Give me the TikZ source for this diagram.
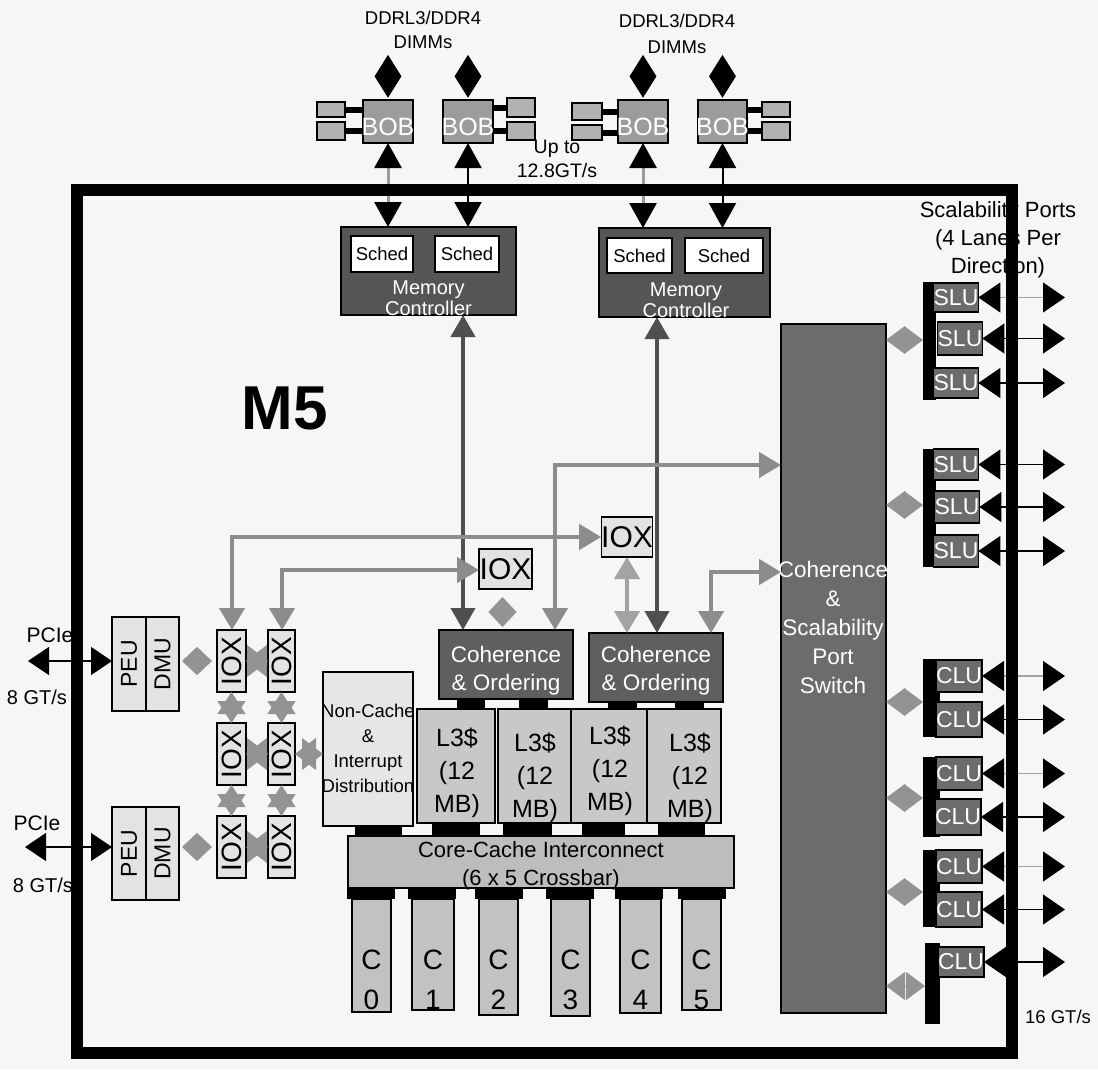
\documentclass[tikz,border=0pt]{standalone}
\usepackage{fontspec}
\usepackage{graphicx}
\setmainfont{Liberation Sans}
\usetikzlibrary{arrows.meta,shapes.geometric,calc}
\definecolor{bg}{HTML}{F6F6F6}
\definecolor{dimmc}{HTML}{B2B2B2}
\definecolor{bobc}{HTML}{9C9C9C}
\definecolor{mcc}{HTML}{555555}
\definecolor{cohc}{HTML}{5F5F5F}
\definecolor{boxl}{HTML}{E3E3E3}
\definecolor{l3c}{HTML}{C8C8C8}
\definecolor{ccic}{HTML}{BDBDBD}
\definecolor{corec}{HTML}{C2C2C2}
\definecolor{ncc}{HTML}{E6E6E6}
\definecolor{swc}{HTML}{6C6C6C}
\definecolor{routeg}{HTML}{8C8C8C}
\definecolor{routed}{HTML}{4F4F4F}
\definecolor{routel}{HTML}{A3A3A3}
\definecolor{starc}{HTML}{939393}
\definecolor{memline}{HTML}{9A9A9A}
\newcommand\fsz[2]{\fontsize{#1}{#2}\selectfont}
\newcommand\bx[7][]{\node[inner sep=0pt,outer sep=0pt,minimum width={#5-#3},minimum height={#6-#4},#1] (#2) at ({(#3+#5)/2},{(#4+#6)/2}) {#7};}
\tikzset{
 bk/.style={draw=black,line width=1.3pt},
 dimm/.style={bk,fill=dimmc},
 bobs/.style={bk,fill=bobc},
 bobt/.style={text=white,font=\fsz{25}{26}},
 dmd/.style={diamond,fill=black,inner sep=0pt,minimum width=27pt,minimum height=43pt},
 dbar/.style={line width=6pt,draw=black},
 mcbox/.style={bk,fill=mcc},
 schedbox/.style={bk,fill=white,font=\fsz{18.5}{20}},
 cohbox/.style={bk,fill=cohc},
 ioxh/.style={bk,fill=boxl,font=\fsz{30}{32}},
 ioxv/.style={bk,fill=boxl,font=\fsz{28}{30}},
 l3box/.style={bk,fill=l3c},
 padbk/.style={fill=black},
 ccibox/.style={bk,fill=ccic},
 corebox/.style={bk,fill=corec},
 ncbox/.style={bk,fill=ncc},
 pdbox/.style={bk,fill=boxl,font=\fsz{23}{24}},
 swbox/.style={bk,fill=swc},
 portbox/.style={bk,fill=swc,text=white,font=\fsz{23}{24}},
 barbk/.style={fill=black},
 wt/.style={text=white},
 memg/.style={draw=memline,line width=3pt,arrows={Triangle[width=27pt,length=25pt,color=black]-Triangle[width=27pt,length=25pt,color=black]}},
 memk/.style={memg,draw=black,line width=2pt},
 pciarr/.style={draw=black,line width=1.2pt,arrows={Triangle[width=28pt,length=21pt]-Triangle[width=28pt,length=21pt]}},
 portk/.style={draw=black,line width=1.2pt,arrows={Triangle[width=30pt,length=22pt,color=black]-Triangle[width=30pt,length=22pt,color=black]}},
 portg/.style={portk,draw=routel},
 droute/.style={draw=routed,line width=4pt,arrows={Triangle[width=24pt,length=22pt]-Triangle[width=24pt,length=22pt]}},
 groute/.style={draw=routeg,line width=4.5pt,arrows={Triangle[width=25pt,length=22pt]-Triangle[width=25pt,length=22pt]}},
 lroute/.style={groute,draw=routel},
 hxconn/.style={draw=starc,line width=1pt,arrows={Triangle[width=32pt,length=21pt]-Triangle[width=32pt,length=21pt]}},
 vstar/.style={draw=starc,line width=1pt,arrows={Triangle[width=28pt,length=22pt]-Triangle[width=28pt,length=22pt]}},
 diaconn/.style={draw=starc,line width=1pt,arrows={Triangle[width=28pt,length=15pt]-Triangle[width=28pt,length=15pt]}},
 swconn/.style={draw=starc,line width=1pt,arrows={Triangle[width=28pt,length=19pt]-Triangle[width=28pt,length=19pt]}},
}
\begin{document}
\begin{tikzpicture}[x=1pt,y=-1pt]
\useasboundingbox (0,0) rectangle (1098,1069);
\fill[bg] (0,0) rectangle (1098,1069);

% ---------- top labels
\node[font=\fsz{18.5}{24},align=center] (ddr1) at (423,30) {DDRL3/DDR4\\DIMMs};
\node[font=\fsz{18.5}{26},align=center] (ddr2) at (677,34) {DDRL3/DDR4\\DIMMs};
\node[font=\fsz{19.5}{24},align=center] (upto) at (557,159) {Up to\\12.8GT/s};

% ---------- BOBs and DIMMs
\bx[bobs]{bob1}{363}{100}{413}{143}{}
\bx[bobs]{bob2}{443}{100}{493}{143}{}
\bx[bobs]{bob3}{618}{100}{668}{143}{}
\bx[bobs]{bob4}{698}{100}{747}{143}{}
\bx[dimm]{d1a}{317}{102}{345}{117}{}
\bx[dimm]{d1b}{317}{122}{345}{140}{}
\bx[dimm]{d2a}{507}{98}{535}{117}{}
\bx[dimm]{d2b}{507}{122}{535}{140}{}
\bx[dimm]{d3a}{572}{103}{602}{120}{}
\bx[dimm]{d3b}{572}{125}{602}{140}{}
\bx[dimm]{d4a}{762}{102}{790}{117}{}
\bx[dimm]{d4b}{762}{122}{790}{140}{}
\draw[dbar] (d1a) -- (d1a -| bob1.west);
\draw[dbar] (d1b) -- (d1b -| bob1.west);
\draw[dbar] (d2a) -- (d2a -| bob2.east);
\draw[dbar] (d2b) -- (d2b -| bob2.east);
\draw[dbar] (d3a) -- (d3a -| bob3.west);
\draw[dbar] (d3b) -- (d3b -| bob3.west);
\draw[dbar] (d4a) -- (d4a -| bob4.east);
\draw[dbar] (d4b) -- (d4b -| bob4.east);
\foreach \b in {1,2,3,4}{
  \node[dmd,anchor=south] (dm\b) at ([yshift=2pt]bob\b.north) {};
  \node[bobt] (bob\b t) at ([yshift=-5pt]bob\b.center) {BOB};
}

% ---------- memory controllers
\bx[mcbox]{mc1}{341}{227}{516}{315}{}
\bx[mcbox]{mc2}{599}{228}{770}{317}{}
\bx[schedbox]{s1a}{351}{236}{413}{272}{Sched}
\bx[schedbox]{s1b}{435}{236}{499}{272}{Sched}
\bx[schedbox]{s2a}{607}{238}{672}{273}{Sched}
\bx[schedbox]{s2b}{685}{238}{763}{273}{Sched}
\node[wt,font=\fsz{20}{21},align=center] (mc1t) at (428.5,298) {Memory\\Controller};
\node[wt,font=\fsz{20}{21},align=center] (mc2t) at (686,300) {Memory\\Controller};
\draw[memg] (bob1.south) -- (bob1.south |- mc1.north);
\draw[memk] (bob2.south) -- (bob2.south |- mc1.north);
\draw[memg] (bob3.south) -- (bob3.south |- mc2.north);
\draw[memk] (bob4.south) -- (bob4.south |- mc2.north);

% ---------- central blocks
\bx[cohbox]{coh1}{439}{630}{573}{699}{}
\bx[cohbox]{coh2}{589}{633}{723}{702}{}
\node[wt,font=\fsz{22.5}{28},align=center] (coh1t) at (506,671) {Coherence\\\& Ordering};
\node[wt,font=\fsz{22.5}{28},align=center] (coh2t) at (656,671) {Coherence\\\& Ordering};
\bx[ioxh]{iox1}{479}{549}{532}{589}{IOX}
\bx[ioxh]{iox2}{602}{517}{652}{557}{IOX}

\bx[padbk]{pc1}{457}{699}{485}{709}{}
\bx[padbk]{pc2}{519}{699}{548}{709}{}
\bx[padbk]{pc3}{608}{702}{637}{709}{}
\bx[padbk]{pc4}{675}{702}{704}{709}{}

\bx[l3box]{l3a}{417}{709}{495}{823}{}
\bx[l3box]{l3b}{498}{709}{571}{823}{}
\bx[l3box]{l3c}{571}{709}{647}{823}{}
\bx[l3box]{l3d}{647}{709}{721}{823}{}
\node[font=\fsz{25}{33},align=center] (l3at) at (457,773) {L3\$\\(12\\MB)};
\node[font=\fsz{25}{33},align=center] (l3bt) at (535,778) {L3\$\\(12\\MB)};
\node[font=\fsz{25}{33},align=center] (l3ct) at (610,771) {L3\$\\(12\\MB)};
\node[font=\fsz{25}{33},align=center] (l3dt) at (690,778) {L3\$\\(12\\MB)};

\bx[ncbox]{nc}{323}{672}{413}{826}{}
\node[font=\fsz{18.5}{25},align=center] (nct) at (368,748) {Non-Cache\\\&\\Interrupt\\Distribution};

\bx[padbk]{pl0}{355}{826}{402}{836}{}
\bx[padbk]{pl1}{432}{823}{480}{836}{}
\bx[padbk]{pl2}{503}{823}{552}{836}{}
\bx[padbk]{pl3}{582}{823}{625}{836}{}
\bx[padbk]{pl4}{658}{823}{705}{836}{}

\bx[ccibox]{cci}{348}{836}{734}{888}{}
\node[font=\fsz{22}{28},align=center] (ccit) at (541,866) {Core-Cache Interconnect\\(6 x 5 Crossbar)};

\bx[padbk]{pk0}{347}{888}{395}{899}{}
\bx[padbk]{pk1}{408}{888}{456}{899}{}
\bx[padbk]{pk2}{475}{888}{523}{899}{}
\bx[padbk]{pk3}{546}{888}{594}{899}{}
\bx[padbk]{pk4}{615}{888}{663}{899}{}
\bx[padbk]{pk5}{678}{888}{726}{899}{}
\bx[corebox]{c0}{352}{899}{391}{1012}{}
\bx[corebox]{c1}{412}{899}{454}{1010}{}
\bx[corebox]{c2}{479}{899}{518}{1015}{}
\bx[corebox]{c3}{551}{899}{590}{1016}{}
\bx[corebox]{c4}{620}{899}{661}{1013}{}
\bx[corebox]{c5}{682}{899}{721}{1010}{}
\foreach \i in {0,...,5}{
  \node[font=\fsz{28}{40},align=center] (c\i t) at ($(c\i.north)+(0,81)$) {C\\\i};
}

% ---------- left I/O
\bx[pdbox]{peu1}{112}{617}{146}{711}{\rotatebox{90}{PEU}}
\bx[pdbox]{dmu1}{146}{617}{179}{711}{\rotatebox{90}{DMU}}
\bx[pdbox]{peu2}{112}{807}{146}{900}{\rotatebox{90}{PEU}}
\bx[pdbox]{dmu2}{146}{807}{179}{900}{\rotatebox{90}{DMU}}
\bx[ioxv]{ioxa1}{217}{630}{246}{692}{\rotatebox{90}{IOX}}
\bx[ioxv]{ioxb1}{268}{630}{295}{692}{\rotatebox{90}{IOX}}
\bx[ioxv]{ioxa2}{217}{723}{246}{785}{\rotatebox{90}{IOX}}
\bx[ioxv]{ioxb2}{268}{723}{295}{785}{\rotatebox{90}{IOX}}
\bx[ioxv]{ioxa3}{217}{816}{246}{878}{\rotatebox{90}{IOX}}
\bx[ioxv]{ioxb3}{268}{816}{295}{878}{\rotatebox{90}{IOX}}

\draw[diaconn] ($(dmu1.east |- ioxa1.west)+(3,0)$) -- ($(ioxa1.west)+(-5,0)$);
\draw[diaconn] ($(dmu2.east |- ioxa3.west)+(3,0)$) -- ($(ioxa3.west)+(-5,0)$);
\draw[hxconn] (ioxa1) -- (ioxb1);
\draw[hxconn] (ioxa2) -- (ioxb2);
\draw[hxconn] (ioxa3) -- (ioxb3);
\draw[vstar] (ioxa1) -- (ioxa2);
\draw[vstar] (ioxa2) -- (ioxa3);
\draw[vstar] (ioxb1) -- (ioxb2);
\draw[vstar] (ioxb2) -- (ioxb3);
\draw[hxconn] (ioxb2.east) -- (ioxb2.east -| nc.west);

\coordinate (pcA) at (28,661);
\coordinate (pcB) at (25,847);
\draw[pciarr] (pcA) -- (pcA -| peu1.west);
\draw[pciarr] (pcB) -- (pcB -| peu2.west);
\node[font=\fsz{21}{22}] (pcie1) at (50,635) {PCIe};
\node[font=\fsz{20}{22}] (gt1) at (37,697) {8 GT/s};
\node[font=\fsz{21}{22}] (pcie2) at (37,823) {PCIe};
\node[font=\fsz{20}{22}] (gt2) at (43,885) {8 GT/s};

% ---------- switch and ports
\bx[swbox]{sw}{781}{324}{886}{1013}{}
\node[wt,font=\fsz{22.5}{29},align=center] (swt) at (833,627) {Coherence\\\&\\Scalability\\Port\\Switch};

\bx[barbk]{sb1}{923}{282}{936}{400}{}
\bx[barbk]{sb2}{923}{449}{936}{567}{}
\bx[portbox]{slu1}{936}{283}{976}{312}{SLU}
\bx[portbox]{slu2}{938}{322}{982}{355}{SLU}
\bx[portbox]{slu3}{936}{368}{976}{398}{SLU}
\bx[portbox]{slu4}{936}{449}{976}{480}{SLU}
\bx[portbox]{slu5}{936}{491}{978}{523}{SLU}
\bx[portbox]{slu6}{936}{535}{976}{567}{SLU}
\bx[barbk]{cb1}{923}{659}{940}{737}{}
\bx[barbk]{cb2}{923}{757}{940}{837}{}
\bx[barbk]{cb3}{923}{850}{940}{927}{}
\bx[barbk]{cb4}{925}{943}{940}{1024}{}
\bx[portbox]{clu1}{940}{660}{978}{692}{CLU}
\bx[portbox]{clu2}{940}{702}{978}{737}{CLU}
\bx[portbox]{clu3}{940}{757}{978}{790}{CLU}
\bx[portbox]{clu4}{940}{799}{976}{835}{CLU}
\bx[portbox]{clu5}{940}{850}{978}{883}{CLU}
\bx[portbox]{clu6}{940}{892}{978}{927}{CLU}
\bx[portbox]{clu7}{940}{947}{982}{977}{CLU}

\coordinate (pend) at (1065,0);
\draw[portg] (slu1.east) -- (slu1.east -| pend);
\draw[portk] (slu2.east) -- (slu2.east -| pend);
\draw[portk] (slu3.east) -- (slu3.east -| pend);
\draw[portk] (slu4.east) -- (slu4.east -| pend);
\draw[portk] (slu5.east) -- (slu5.east -| pend);
\draw[portk] (slu6.east) -- (slu6.east -| pend);
\draw[portg] (clu1.east) -- (clu1.east -| pend);
\draw[portk] (clu2.east) -- (clu2.east -| pend);
\draw[portg] (clu3.east) -- (clu3.east -| pend);
\draw[portk] (clu4.east) -- (clu4.east -| pend);
\draw[portg] (clu5.east) -- (clu5.east -| pend);
\draw[portk] (clu6.east) -- (clu6.east -| pend);
\draw[portk] (clu7.east) -- (clu7.east -| pend);

\coordinate (h1) at (0,340);
\coordinate (h2) at (0,505);
\coordinate (h3) at (0,702);
\coordinate (h4) at (0,798);
\coordinate (h5) at (0,892);
\coordinate (h6) at (0,986);
\draw[swconn] (sw.east |- h1) -- (sb1.west |- h1);
\draw[swconn] (sw.east |- h2) -- (sb2.west |- h2);
\draw[swconn] (sw.east |- h3) -- (cb1.west |- h3);
\draw[swconn] (sw.east |- h4) -- (cb2.west |- h4);
\draw[swconn] (sw.east |- h5) -- (cb3.west |- h5);
\draw[swconn] (sw.east |- h6) -- (cb4.west |- h6);

\node[font=\fsz{22}{28},align=center] (scal) at (998,240) {Scalability Ports\\(4 Lanes Per\\Direction)};
\node[font=\fsz{18.5}{20}] (gt16) at (1058,1017) {16 GT/s};

% ---------- routed connectors
\coordinate (v1) at (463,0);
\coordinate (v2) at (657,0);
\draw[droute] (v1 |- mc1.south) -- (v1 |- coh1.north);
\draw[droute] (v2 |- mc2.south) -- (v2 |- coh2.north);
\coordinate (r1) at (555,465);
\draw[groute] (r1 -| sw.west) -- (r1) -- (r1 |- coh1.north);
\coordinate (r2) at (232,537);
\draw[groute] (r2 -| iox2.west) -- (r2) -- (r2 |- ioxa1.north);
\coordinate (r3) at (282,570);
\draw[groute] (r3 -| iox1.west) -- (r3) -- (r3 |- ioxb1.north);
\coordinate (r4) at (711,572);
\draw[groute] (r4 -| sw.west) -- (r4) -- (r4 |- coh2.north);
\draw[lroute] (iox2.south) -- (iox2.south |- coh2.north);
\draw[diaconn] ($(iox1.south)+(-3,8)$) -- ($(iox1.south |- coh1.north)+(-3,-3)$);

% ---------- title
\node[font=\bfseries\fsz{62}{66}] (title) at (285,408) {M5};

% ---------- chip frame
\bx[draw=black,line width=12pt]{frame}{77}{190}{1012}{1053}{}
\end{tikzpicture}
\end{document}
